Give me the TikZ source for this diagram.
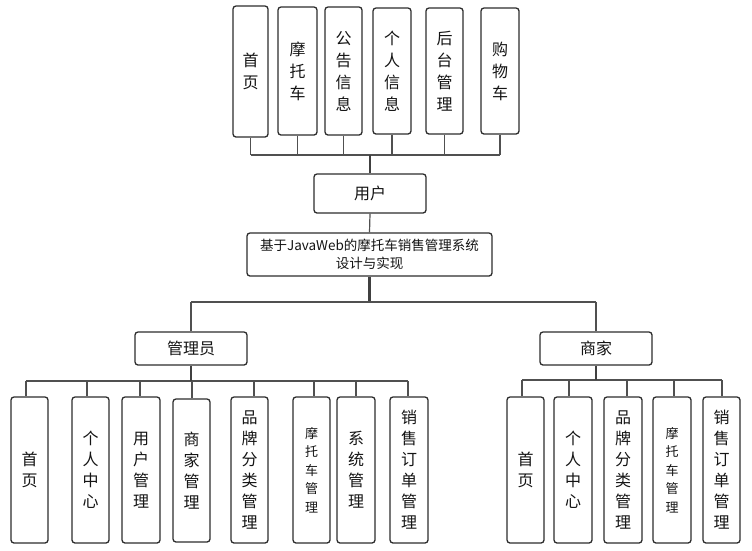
\documentclass[tikz,border=0pt]{standalone}
\usepackage{fontspec}
\setmainfont{Noto Sans CJK SC}
\definecolor{boxline}{RGB}{45,45,45}
\definecolor{conn}{RGB}{80,80,80}
\definecolor{txt}{RGB}{20,20,20}
\begin{document}
\begin{tikzpicture}[x=1pt,y=-1pt,
  box/.style={draw=boxline, line width=1.3pt, rounded corners=3pt, fill=white,
    align=center, inner sep=0pt, text=txt, font=\fontsize{16}{21}\selectfont},
  hbox/.style={box, minimum width=112pt, minimum height=#1},
  vbox/.style={box, minimum width=37pt, minimum height=#1},
  topv/.style={font=\fontsize{16}{22}\selectfont},
  small/.style={font=\fontsize{13}{18.5}\selectfont},
  drop/.style={draw=conn, line width=1.2pt},
  bus/.style={draw=conn, line width=1.7pt},
  stem/.style={draw=conn!80!black, line width=2.2pt}]
\fill[white] (0,0) rectangle (752,550);
\useasboundingbox (0,0) rectangle (752,550);

% top row
\node[vbox=131pt, minimum width=35pt, topv] (t1) at (250.5,71.5) {首\\页};
\node[vbox=128pt, minimum width=39pt, topv] (t2) at (297.5,71) {摩\\托\\车};
\node[vbox=128pt, topv] (t3) at (343.5,71) {公\\告\\信\\息};
\node[vbox=126pt, minimum width=38pt, topv] (t4) at (392,71) {个\\人\\信\\息};
\node[vbox=126pt, topv] (t5) at (444.5,71) {后\\台\\管\\理};
\node[vbox=126pt, minimum width=38pt, topv] (t6) at (500,71) {购\\物\\车};

\node[hbox=39pt] (user) at (370,193.5) {用户};
\node[box, minimum width=245pt, minimum height=43pt, font=\fontsize{13.5}{18}\selectfont] (sys) at (369.5,254.5) {基于JavaWeb的摩托车销售管理系统\\设计与实现};

\node[hbox=33pt] (adm) at (191,348.5) {管理员};
\node[hbox=33pt] (mer) at (596,348.5) {商家};

% admin children
\node[vbox=146pt] (a1) at (29.5,470) {首\\页};
\node[vbox=146pt] (a2) at (90.5,470) {个\\人\\中\\心};
\node[vbox=146pt, minimum width=38pt] (a3) at (141,470) {用\\户\\管\\理};
\node[vbox=143pt] (a4) at (191.5,470.5) {商\\家\\管\\理};
\node[vbox=146pt] (a5) at (249.5,470) {品\\牌\\分\\类\\管\\理};
\node[vbox=146pt, small] (a6) at (311.5,470) {摩\\托\\车\\管\\理};
\node[vbox=146pt, minimum width=38pt] (a7) at (356,470) {系\\统\\管\\理};
\node[vbox=146pt, minimum width=38pt] (a8) at (409,470) {销\\售\\订\\单\\管\\理};

% merchant children
\node[vbox=146pt] (m1) at (525.5,470) {首\\页};
\node[vbox=146pt, minimum width=38pt] (m2) at (573,470) {个\\人\\中\\心};
\node[vbox=146pt, minimum width=38pt] (m3) at (623,470) {品\\牌\\分\\类\\管\\理};
\node[vbox=146pt, minimum width=38pt, small] (m4) at (672,470) {摩\\托\\车\\管\\理};
\node[vbox=146pt] (m5) at (721.5,470) {销\\售\\订\\单\\管\\理};

% top bus
\coordinate (tbL) at (250.5,155);
\coordinate (tbR) at (500,155);
\foreach \n in {t1,t2,t3,t4,t5,t6} \draw[drop] (\n.south) -- (\n.south |- tbL);
\draw[bus] (tbL) -- (tbR);
\draw[stem] (user.north) -- (user.north |- tbL);
\draw[drop] (user.south) -- (sys.north);

% middle bus
\coordinate (mbL) at (191,302);
\coordinate (mbR) at (596,302);
\draw[stem] (sys.south) -- (sys.south |- mbL);
\draw[bus] (mbL) -- (mbR);
\draw[drop] (adm.north) -- (adm.north |- mbL);
\draw[drop] (mer.north) -- (mer.north |- mbR);

% admin bus
\coordinate (abL) at (26,381);
\coordinate (abR) at (408,381);
\draw[bus] (abL) -- (abR);
\draw[stem] (adm.south) -- (adm.south |- abL);
\foreach \n/\x in {a1/26,a2/87,a3/140,a4/192,a5/254,a6/314,a7/356,a8/408} {
  \coordinate (d\n) at (\x,381);
  \draw[drop] (d\n) -- (d\n |- \n.north);
}

% merchant bus
\coordinate (mrL) at (522,380);
\coordinate (mrR) at (722,380);
\draw[bus] (mrL) -- (mrR);
\draw[stem] (mer.south) -- (mer.south |- mrL);
\foreach \n/\x in {m1/522,m2/569,m3/627,m4/674,m5/722} {
  \coordinate (d\n) at (\x,380);
  \draw[drop] (d\n) -- (d\n |- \n.north);
}
\end{tikzpicture}
\end{document}
